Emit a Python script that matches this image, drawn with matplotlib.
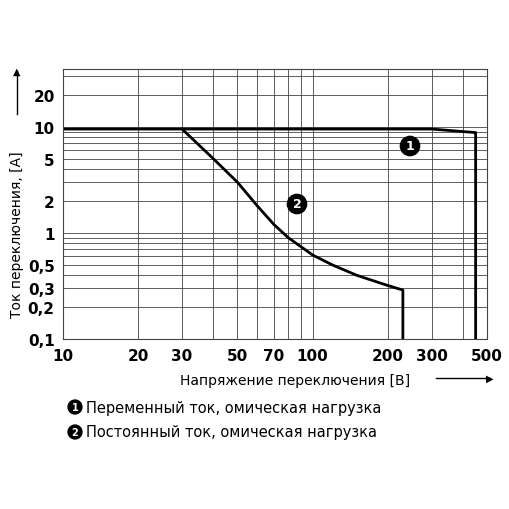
import matplotlib
matplotlib.use("Agg")
import matplotlib.pyplot as plt
from matplotlib.ticker import FixedLocator, NullLocator

ac_v = [10, 300, 450, 450]
ac_i = [9.5, 9.5, 8.8, 0.1]
dc_v = [30, 40, 50, 60, 70, 80, 100, 120, 150, 200, 230, 230]
dc_i = [9.5, 5.0, 3.0, 1.8, 1.2, 0.9, 0.62, 0.5, 0.4, 0.32, 0.29, 0.1]
xticks = [10, 20, 30, 50, 70, 100, 200, 300, 500]
xlabels = ["10", "20", "30", "50", "70", "100", "200", "300", "500"]
yticks = [0.1, 0.2, 0.3, 0.5, 1, 2, 5, 10, 20]
ylabels = ["0,1", "0,2", "0,3", "0,5", "1", "2", "5", "10", "20"]

fig = plt.figure(figsize=(5.1, 5.1), dpi=100)
ax = fig.add_axes([0.1235, 0.333, 0.8315, 0.53])
ax.set_xscale("log"); ax.set_yscale("log")
ax.set_xlim(10, 500); ax.set_ylim(0.1, 35)
vx = [10,20,30,40,50,60,70,80,90,100,200,300,400,500]
hy = [0.1,0.2,0.3,0.4,0.5,0.6,0.7,0.8,0.9,1,2,3,4,5,6,7,8,9,10,20,30]
for v in vx: ax.axvline(v, color="#444", lw=0.6)
for h in hy: ax.axhline(h, color="#444", lw=0.6)
ax.plot(ac_v, ac_i, color="black", lw=2)
ax.plot(dc_v, dc_i, color="black", lw=2)
ax.xaxis.set_major_locator(FixedLocator(xticks)); ax.set_xticklabels(xlabels)
ax.yaxis.set_major_locator(FixedLocator(yticks)); ax.set_yticklabels(ylabels)
ax.xaxis.set_minor_locator(NullLocator()); ax.yaxis.set_minor_locator(NullLocator())
ax.tick_params(length=0, labelsize=11, pad=6)
for lbl in ax.get_xticklabels()+ax.get_yticklabels(): lbl.set_fontweight("bold")
for s in ax.spines.values(): s.set_color("#444")
for x, y, t in [(410/510, 1-147/510, "1"), (297/510, 1-205/510, "2")]:
    fig.text(x, y, t, color="white", fontsize=9, fontweight="bold", ha="center", va="center",
             bbox=dict(boxstyle="circle,pad=0.25", fc="black", ec="black"))
fig.text(180/510, 1-381/510, "Напряжение переключения [В]", fontsize=10, va="center")
fig.add_artist(plt.Line2D([436/510, 490/510], [1-379/510]*2, color="black", lw=1))
fig.text(490/510, 1-379/510, "▶", fontsize=7, va="center", ha="center")
fig.text(17/510, 1-235/510, "Ток переключения, [А]", fontsize=10, rotation=90, ha="center", va="center")
fig.add_artist(plt.Line2D([17/510]*2, [1-115/510, 1-72/510], color="black", lw=1))
fig.text(17/510, 1-72/510, "▲", fontsize=7, va="center", ha="center")
for y, t, txt in [(408, "1", "Переменный ток, омическая нагрузка"), (433, "2", "Постоянный ток, омическая нагрузка")]:
    fig.text(75/510, 1-y/510, t, color="white", fontsize=7, fontweight="bold", ha="center", va="center",
             bbox=dict(boxstyle="circle,pad=0.2", fc="black", ec="black"))
    fig.text(86/510, 1-y/510, txt, fontsize=10.5, va="center")
fig.savefig("out.png", dpi=100)
